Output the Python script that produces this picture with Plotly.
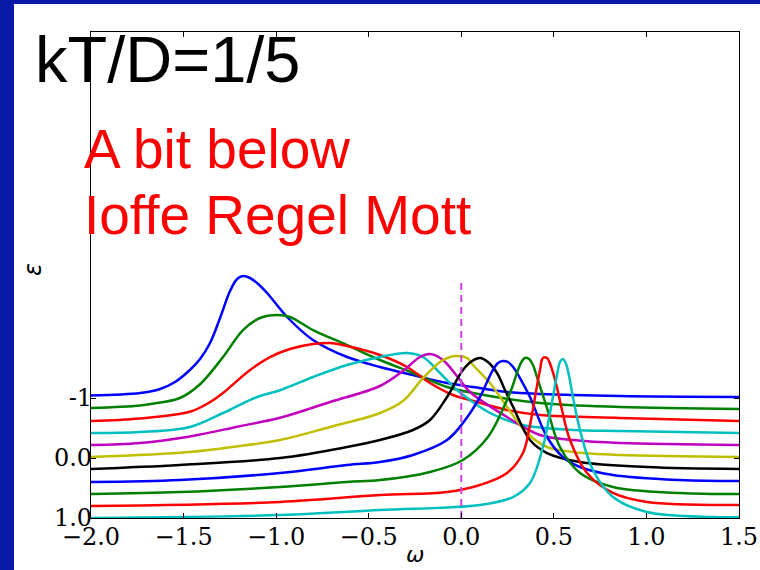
import plotly.graph_objects as go

# ---- data (omega, epsilon offset curves) ----
blue1_x = [-2.0, -1.735, -1.627, -1.546, -1.466, -1.411, -1.357, -1.303, -1.249, -1.211, -1.179, -1.141, -1.103, -1.049, -0.941, -0.801, -0.617, -0.439, -0.261, -0.077, 0.063, 0.247, 0.425, 0.857, 1.5]
blue1_y = [-1.04, -1.083, -1.15, -1.267, -1.467, -1.65, -1.917, -2.333, -2.783, -2.983, -3.033, -3.0, -2.917, -2.75, -2.35, -1.967, -1.683, -1.517, -1.383, -1.25, -1.183, -1.1, -1.067, -1.033, -1.017]

green1_x = [-2.0, -1.735, -1.627, -1.52, -1.411, -1.287, -1.179, -1.087, -0.995, -0.925, -0.801, -0.617, -0.439, -0.261, -0.077, 0.063, 0.425, 0.857, 1.5]
green1_y = [-0.833, -0.875, -0.925, -1.0, -1.23, -1.683, -2.133, -2.333, -2.383, -2.35, -2.133, -1.883, -1.633, -1.417, -1.183, -1.083, -0.917, -0.85, -0.817]

red1_x = [-2.0, -1.735, -1.466, -1.357, -1.287, -1.141, -1.033, -0.925, -0.801, -0.709, -0.617, -0.439, -0.293, -0.169, -0.045, 0.047, 0.247, 0.425, 0.857, 1.5]
red1_y = [-0.617, -0.66, -0.77, -0.93, -1.083, -1.467, -1.683, -1.817, -1.9, -1.917, -1.867, -1.717, -1.517, -1.25, -1.05, -0.967, -0.8, -0.717, -0.667, -0.617]

cyan1_x = [-2.0, -1.735, -1.466, -1.287, -1.103, -0.979, -0.801, -0.617, -0.439, -0.293, -0.207, -0.115, -0.023, 0.047, 0.155, 0.333, 0.603, 0.857, 1.5]
cyan1_y = [-0.417, -0.433, -0.517, -0.75, -1.017, -1.13, -1.35, -1.55, -1.683, -1.75, -1.683, -1.417, -1.133, -0.967, -0.75, -0.55, -0.467, -0.45, -0.417]

magenta_x = [-2.0, -1.735, -1.466, -1.196, -0.979, -0.709, -0.439, -0.315, -0.223, -0.169, -0.099, -0.007, 0.047, 0.247, 0.425, 0.603, 0.857, 1.5]
magenta_y = [-0.217, -0.25, -0.36, -0.53, -0.67, -0.933, -1.2, -1.45, -1.683, -1.733, -1.633, -1.3, -1.1, -0.683, -0.383, -0.3, -0.25, -0.217]

yellow_x = [-2.0, -1.466, -1.196, -0.979, -0.709, -0.439, -0.315, -0.207, -0.115, -0.075, -0.034, 0.031, 0.063, 0.155, 0.247, 0.355, 0.463, 0.603, 0.857, 1.5]
yellow_y = [-0.017, -0.1, -0.2, -0.3, -0.517, -0.75, -0.95, -1.33, -1.6, -1.667, -1.7, -1.667, -1.55, -1.25, -0.85, -0.417, -0.183, -0.1, -0.05, -0.017]

black_x = [-2.0, -1.52, -0.979, -0.617, -0.439, -0.261, -0.169, -0.077, 0.009, 0.058, 0.101, 0.144, 0.193, 0.236, 0.28, 0.371, 0.463, 0.641, 1.003, 1.5]
black_y = [0.183, 0.117, 0.0, -0.183, -0.3, -0.467, -0.633, -1.017, -1.467, -1.617, -1.667, -1.6, -1.417, -1.133, -0.85, -0.3, -0.083, 0.067, 0.15, 0.183]

blue2_x = [-2.0, -1.52, -0.979, -0.617, -0.439, -0.261, -0.077, 0.009, 0.101, 0.139, 0.171, 0.198, 0.225, 0.252, 0.28, 0.317, 0.371, 0.463, 0.549, 0.641, 0.819, 1.181, 1.5]
blue2_y = [0.4, 0.367, 0.25, 0.117, 0.067, -0.05, -0.3, -0.583, -1.017, -1.267, -1.467, -1.583, -1.617, -1.6, -1.517, -1.333, -1.017, -0.35, -0.017, 0.15, 0.283, 0.367, 0.383]

green2_x = [-2.0, -1.52, -0.979, -0.617, -0.439, -0.169, 0.009, 0.144, 0.247, 0.279, 0.306, 0.328, 0.344, 0.366, 0.387, 0.414, 0.463, 0.533, 0.641, 0.819, 1.181, 1.5]
green2_y = [0.6, 0.567, 0.483, 0.4, 0.367, 0.233, 0.033, -0.35, -0.967, -1.217, -1.467, -1.617, -1.667, -1.65, -1.55, -1.3, -0.833, -0.183, 0.25, 0.483, 0.583, 0.6]

red2_x = [-2.0, -0.979, -0.439, -0.077, 0.101, 0.247, 0.333, 0.371, 0.403, 0.425, 0.441, 0.463, 0.484, 0.511, 0.544, 0.587, 0.679, 0.819, 1.003, 1.5]
red2_y = [0.8, 0.733, 0.617, 0.567, 0.45, 0.25, -0.083, -0.55, -1.1, -1.467, -1.667, -1.667, -1.533, -1.25, -0.8, -0.3, 0.25, 0.583, 0.733, 0.783]

cyan2_x = [-2.0, -0.979, -0.439, 0.101, 0.28, 0.371, 0.441, 0.474, 0.495, 0.517, 0.533, 0.549, 0.566, 0.582, 0.603, 0.641, 0.711, 0.819, 1.003, 1.359, 1.5]
cyan2_y = [1.0, 0.95, 0.867, 0.783, 0.65, 0.417, -0.183, -0.667, -1.017, -1.383, -1.6, -1.65, -1.567, -1.367, -1.017, -0.467, 0.2, 0.65, 0.9, 0.983, 0.983]

dash_x = [0.0, 0.0]
dash_y = [1.0, -2.92]

x_ticks = [-2.0, -1.5, -1.0, -0.5, 0.0, 0.5, 1.0, 1.5]
x_ticktext = ["\u22122.0", "\u22121.5", "\u22121.0", "\u22120.5", "0.0", "0.5", "1.0", "1.5"]
y_ticks = [-1, 0, 1]
y_ticktext = ["-1", "0.0", "1.0"]

series = [
    (blue1_x, blue1_y, "#0000FF"),
    (green1_x, green1_y, "#008000"),
    (red1_x, red1_y, "#FF0000"),
    (cyan1_x, cyan1_y, "#00BFBF"),
    (magenta_x, magenta_y, "#BF00BF"),
    (yellow_x, yellow_y, "#BFBF00"),
    (black_x, black_y, "#000000"),
    (blue2_x, blue2_y, "#0000FF"),
    (green2_x, green2_y, "#008000"),
    (red2_x, red2_y, "#FF0000"),
    (cyan2_x, cyan2_y, "#00BFBF"),
]

fig = go.Figure()
for xs, ys, col in series:
    fig.add_trace(go.Scatter(x=xs, y=ys, mode="lines",
                             line=dict(color=col, width=2.5, shape="spline", smoothing=1.0),
                             showlegend=False, hoverinfo="skip"))

fig.add_trace(go.Scatter(x=dash_x, y=dash_y, mode="lines",
                         line=dict(color="#CC44DD", width=2, dash="7px,5px"),
                         showlegend=False, hoverinfo="skip"))

axis_common = dict(showgrid=False, zeroline=False, showline=True, linecolor="black",
                   linewidth=1.3, mirror="ticks", ticks="inside", ticklen=5,
                   tickcolor="black", tickwidth=1, automargin=False,
                   tickfont=dict(family="DejaVu Serif", size=24, color="black"))

fig.update_layout(
    width=760, height=570, autosize=False,
    margin=dict(l=91, r=21, t=32, b=52, autoexpand=False),
    plot_bgcolor="white", paper_bgcolor="white",
    xaxis=dict(range=[-2.0, 1.5], tickvals=x_ticks, ticktext=x_ticktext,
               ticklabelstandoff=-3, **axis_common),
    yaxis=dict(range=[1.0, -7.1], tickvals=y_ticks, ticktext=y_ticktext,
               ticklabelstandoff=-7, **axis_common),
    shapes=[
        dict(type="rect", xref="paper", yref="paper", x0=-0.1405, x1=-0.1188, y0=-0.12, y1=1.08,
             fillcolor="#0A1AA8", line=dict(width=0), layer="above"),
        dict(type="rect", xref="paper", yref="paper", x0=-0.1405, x1=1.05, y0=1.0576, y1=1.08,
             fillcolor="#0A1AA8", line=dict(width=0), layer="above"),
    ],
    annotations=[
        dict(text="kT/D=1/5", xref="paper", yref="paper", x=(33 - 91) / 648, y=(518 - 60) / 486,
             xanchor="left", yanchor="middle", showarrow=False,
             font=dict(family="Liberation Sans", size=65, color="black")),
        dict(text="A bit below", xref="paper", yref="paper", x=(82 - 91) / 648, y=(518 - 149) / 486,
             xanchor="left", yanchor="middle", showarrow=False,
             font=dict(family="Liberation Sans", size=55, color="#FF0000")),
        dict(text="Ioffe Regel Mott", xref="paper", yref="paper", x=(82 - 91) / 648, y=(518 - 215) / 486,
             xanchor="left", yanchor="middle", showarrow=False,
             font=dict(family="Liberation Sans", size=55, color="#FF0000")),
        dict(text="<i>\u03c9</i>", xref="paper", yref="paper", x=(415 - 91) / 648, y=(518 - 554) / 486,
             xanchor="center", yanchor="middle", showarrow=False,
             font=dict(family="DejaVu Sans", size=22, color="black")),
        dict(text="<i>\u03b5</i>", xref="paper", yref="paper", x=(33 - 91) / 648, y=(518 - 270) / 486,
             xanchor="center", yanchor="middle", showarrow=False, textangle=-90,
             font=dict(family="DejaVu Sans", size=24, color="black")),
    ],
)

fig.write_html("out.html")
